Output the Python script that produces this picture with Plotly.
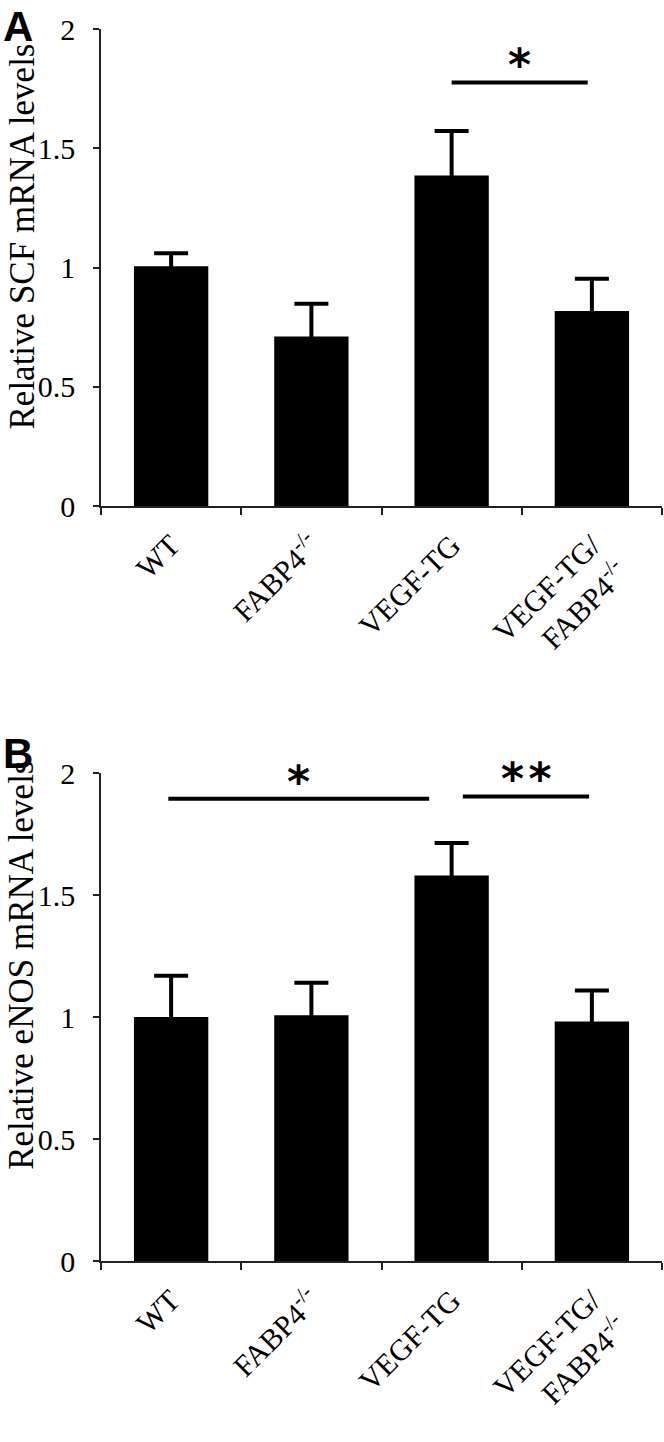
import plotly.graph_objects as go

# ---------------- data ----------------
categories = ["WT", "FABP4<sup>-/-</sup>", "VEGF-TG", "VEGF-TG/<br>FABP4<sup>-/-</sup>"]
scf_mean = [1.005, 0.711, 1.386, 0.818]
scf_err = [0.055, 0.137, 0.186, 0.135]
enos_mean = [1.000, 1.007, 1.580, 0.982]
enos_err = [0.169, 0.133, 0.133, 0.127]
y_tick_vals = [0, 0.5, 1, 1.5, 2]
y_tick_text = ["0", "0.5", "1", "1.5", "2"]
# significance brackets: (x start, x end, y level, label)
scf_sig = [(2.0, 2.97, 1.776, "*")]
enos_sig = [(-0.02, 1.84, 1.894, "*"), (2.08, 2.98, 1.904, "*\u200a*")]
panel_titles = ["Relative SCF mRNA levels", "Relative eNOS mRNA levels"]
panel_letters = ["A", "B"]

W, H = 664, 1442
ML, MR = 101, 2
PW = W - ML - MR
SERIF = "Liberation Serif, Times New Roman, serif"

fig = go.Figure()

panels = [
    dict(mean=scf_mean, err=scf_err, sig=scf_sig, xa="x", ya="y",
         dom=[1 - 506 / H, 1 - 29 / H], title_y=0.565, letter_y=1 - 0.5 / H),
    dict(mean=enos_mean, err=enos_err, sig=enos_sig, xa="x2", ya="y2",
         dom=[1 - 1261 / H, 1 - 773 / H], title_y=0.605, letter_y=1 - 728 / H),
]

annotations = []
shapes = []
for i, p in enumerate(panels):
    fig.add_trace(go.Bar(
        x=categories, y=p["mean"], xaxis=p["xa"], yaxis=p["ya"],
        width=0.53, marker=dict(color="black", line=dict(width=0)),
        error_y=dict(type="data", array=p["err"], symmetric=True,
                     color="black", thickness=4, width=17),
        showlegend=False, hoverinfo="skip",
    ))
    for (x0, x1, yv, lab) in p["sig"]:
        shapes.append(dict(type="line", xref=p["xa"], yref=p["ya"],
                           x0=x0, x1=x1, y0=yv, y1=yv,
                           line=dict(color="black", width=4)))
        annotations.append(dict(x=(x0 + x1) / 2, y=yv, xref=p["xa"], yref=p["ya"],
                                text="<b>%s</b>" % lab, showarrow=False, yanchor="bottom",
                                yshift=-10,
                                font=dict(family="DejaVu Sans", size=44, color="black")))
    # y-axis title
    annotations.append(dict(x=(0.5 - ML) / PW, y=p["title_y"], xref="paper",
                            yref=p["ya"] + " domain", text=panel_titles[i],
                            textangle=-90, showarrow=False,
                            xanchor="left", yanchor="middle",
                            font=dict(family=SERIF, size=35, color="black")))
    # panel letter
    annotations.append(dict(x=(1 - ML) / PW, y=p["letter_y"], xref="paper", yref="paper",
                            text="<b>%s</b>" % panel_letters[i], showarrow=False,
                            xanchor="left", yanchor="top",
                            font=dict(family="Liberation Sans, Arial", size=42, color="black")))

axis_common = dict(showline=True, linecolor="#222", linewidth=1.5,
                   ticks="outside", tickcolor="#222", tickwidth=1.5,
                   showgrid=False, zeroline=False, automargin=False,
                   tickfont=dict(family=SERIF, size=30, color="black"))

layout = dict(
    width=W, height=H, paper_bgcolor="white", plot_bgcolor="white",
    margin=dict(l=ML, r=MR, t=0, b=0),
    shapes=shapes, annotations=annotations, bargap=0.47,
)
for i, p in enumerate(panels):
    sfx = "" if i == 0 else "2"
    layout["xaxis" + sfx] = dict(axis_common, domain=[0, 1], anchor="y" + sfx,
                                 type="category", range=[-0.5, 3.5],
                                 tickson="boundaries", ticklen=7, tickangle=-45,
                                 ticklabelstandoff=8)
    layout["yaxis" + sfx] = dict(axis_common, domain=p["dom"], anchor="x" + sfx,
                                 range=[0, 2], tickmode="array",
                                 tickvals=y_tick_vals, ticktext=y_tick_text,
                                 ticklen=6, ticklabelstandoff=12)

fig.update_layout(**layout)
fig.write_html("out.html", config={"displayModeBar": False},
               post_script="document.body.style.margin='0';document.body.style.overflow='hidden';")
